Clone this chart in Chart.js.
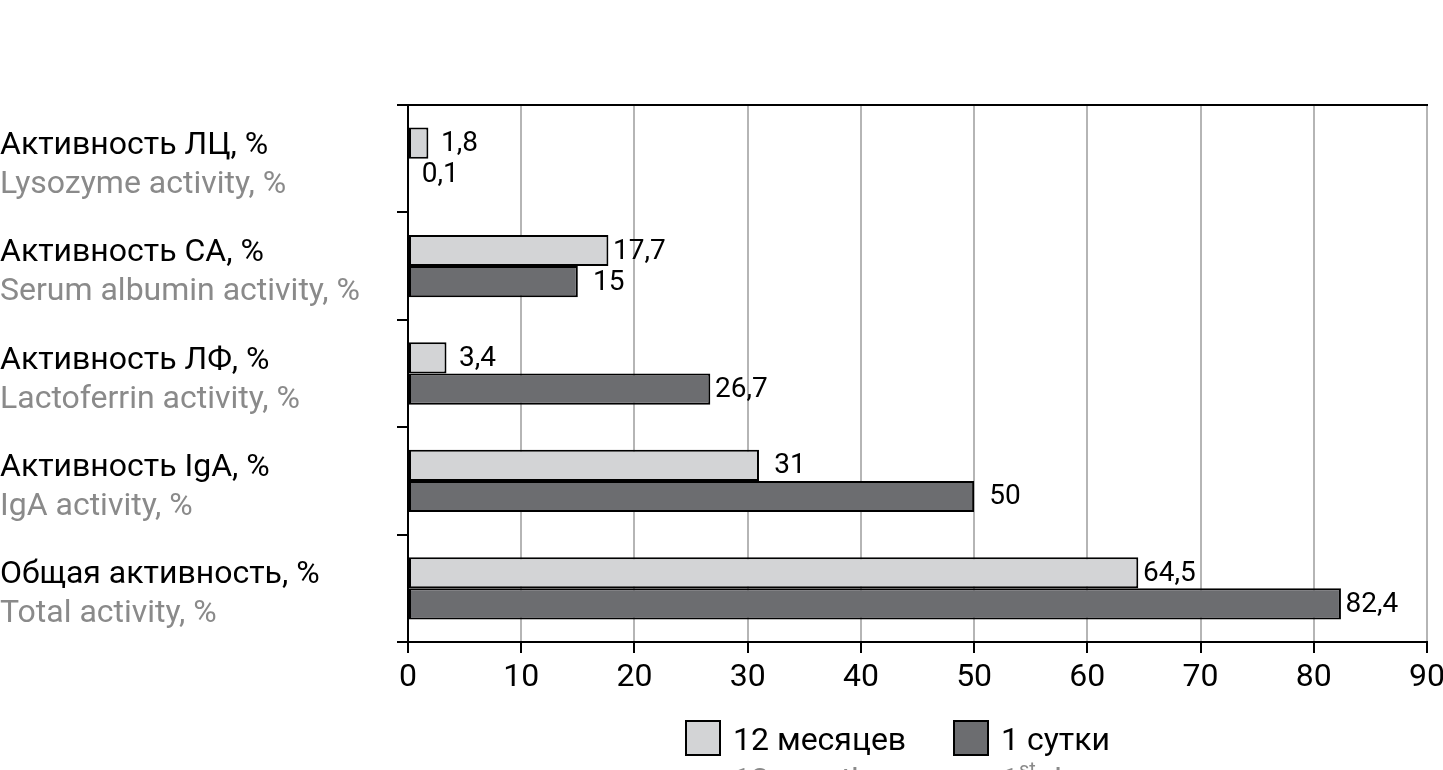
<!DOCTYPE html>
<html lang="ru">
<head>
    <meta charset="UTF-8">
    <title>Активность</title>
    <script src="https://cdn.jsdelivr.net/npm/chart.js"></script>
    <style>
        html, body { margin: 0; padding: 0; background: #fff; }
        #wrap { width: 1443px; height: 770px; position: relative; }
    </style>
</head>
<body>
    <div id="wrap"><canvas id="chart"></canvas></div>

    <script>
        // Данные
        const categoriesRu = ['Активность ЛЦ, %', 'Активность СА, %', 'Активность ЛФ, %', 'Активность IgA, %', 'Общая активность, %'];
        const categoriesEn = ['Lysozyme activity, %', 'Serum albumin activity, %', 'Lactoferrin activity, %', 'IgA activity, %', 'Total activity, %'];
        const months12 = [1.8, 17.7, 3.4, 31, 64.5];
        const day1 = [0.1, 15, 26.7, 50, 82.4];
        const seriesRu = ['12 месяцев', '1 сутки'];
        const seriesEn = [['12 months', ''], ['1', 'st', ' day']];
        const xTicks = [0, 10, 20, 30, 40, 50, 60, 70, 80, 90];

        const FONT = 'Roboto, "Liberation Sans", sans-serif';
        const GREY_TEXT = '#8a8a8a';

        // подписи категорий слева (две строки, разный цвет)
        const categoryLabels = {
            id: 'categoryLabels',
            afterDraw(chart) {
                const ctx = chart.ctx;
                const y = chart.scales.y;
                ctx.save();
                ctx.textAlign = 'left';
                ctx.textBaseline = 'alphabetic';
                categoriesRu.forEach((ru, i) => {
                    const c = y.getPixelForValue(i);
                    ctx.font = '32px ' + FONT;
                    ctx.fillStyle = '#000';
                    ctx.fillText(ru, 0, c - 5);
                    ctx.fillStyle = GREY_TEXT;
                    ctx.fillText(categoriesEn[i], 0, c + 34);
                });
                ctx.restore();
            }
        };

        // значения у концов столбцов
        const valueLabels = {
            id: 'valueLabels',
            afterDatasetsDraw(chart) {
                const ctx = chart.ctx;
                ctx.save();
                ctx.font = '28px ' + FONT;
                ctx.fillStyle = '#000';
                ctx.textAlign = 'center';
                ctx.textBaseline = 'middle';
                chart.data.datasets.forEach((ds, di) => {
                    chart.getDatasetMeta(di).data.forEach((bar, i) => {
                        const txt = String(ds.data[i]).replace('.', ',');
                        ctx.fillText(txt, bar.x + 31, bar.y + 1);
                    });
                });
                ctx.restore();
            }
        };

        // верхняя линия рамки
        const topLine = {
            id: 'topLine',
            afterDraw(chart) {
                const a = chart.chartArea;
                const ctx = chart.ctx;
                ctx.save();
                ctx.strokeStyle = '#000';
                ctx.lineWidth = 2;
                ctx.beginPath();
                ctx.moveTo(a.left, a.top);
                ctx.lineTo(a.right + 1, a.top);
                ctx.stroke();
                ctx.restore();
            }
        };

        // легенда снизу
        const bottomLegend = {
            id: 'bottomLegend',
            afterDraw(chart) {
                const ctx = chart.ctx;
                const starts = [686, 954];
                ctx.save();
                chart.data.datasets.forEach((ds, i) => {
                    const x = starts[i];
                    ctx.fillStyle = ds.backgroundColor;
                    ctx.fillRect(x, 721, 34, 34);
                    ctx.strokeStyle = '#000';
                    ctx.lineWidth = 2;
                    ctx.strokeRect(x, 721, 34, 34);
                    ctx.font = '32px ' + FONT;
                    ctx.fillStyle = '#000';
                    ctx.textAlign = 'left';
                    ctx.textBaseline = 'alphabetic';
                    ctx.fillText(seriesRu[i], x + 47, 750);
                    // английская строка (обрезана краем)
                    ctx.fillStyle = GREY_TEXT;
                    const parts = seriesEn[i];
                    let tx = x + 47;
                    ctx.fillText(parts[0], tx, 790);
                    tx += ctx.measureText(parts[0]).width;
                    if (parts[1]) {
                        ctx.font = '20px ' + FONT;
                        ctx.fillText(parts[1], tx, 776);
                        tx += ctx.measureText(parts[1]).width;
                        ctx.font = '32px ' + FONT;
                        ctx.fillText(parts[2], tx, 790);
                    }
                });
                ctx.restore();
            }
        };

        new Chart(document.getElementById('chart'), {
            type: 'bar',
            data: {
                labels: categoriesRu,
                datasets: [{
                    label: seriesRu[0],
                    data: months12,
                    backgroundColor: '#d3d4d6',
                    borderColor: '#000',
                    borderWidth: 2,
                    borderSkipped: false,
                    categoryPercentage: 0.58,
                    barPercentage: 1.0
                }, {
                    label: seriesRu[1],
                    data: day1,
                    backgroundColor: '#6c6d70',
                    borderColor: '#000',
                    borderWidth: 2,
                    borderSkipped: false,
                    categoryPercentage: 0.58,
                    barPercentage: 1.0
                }]
            },
            options: {
                indexAxis: 'y',
                responsive: true,
                maintainAspectRatio: false,
                animation: false,
                layout: { padding: { top: 105, right: 16, left: 0, bottom: 0 } },
                plugins: {
                    legend: { display: false },
                    tooltip: { enabled: false }
                },
                scales: {
                    x: {
                        min: 0,
                        max: 90,
                        afterBuildTicks(scale) {
                            scale.ticks = xTicks.map(v => ({ value: v }));
                        },
                        ticks: {
                            font: { family: FONT, size: 32 },
                            color: '#000',
                            padding: 6
                        },
                        grid: {
                            color: '#b5b5b5',
                            lineWidth: 2,
                            tickColor: '#000',
                            tickLength: 11
                        },
                        border: { color: '#000', width: 2 },
                        afterFit(scale) {
                            scale.height = 128;
                            scale.paddingLeft = 0;
                            scale.paddingRight = 0;
                        }
                    },
                    y: {
                        ticks: { display: false },
                        grid: {
                            drawOnChartArea: false,
                            color: '#000',
                            lineWidth: 2,
                            tickLength: 11
                        },
                        border: { color: '#000', width: 2 },
                        afterFit(scale) {
                            scale.width = 408;
                        }
                    }
                }
            },
            plugins: [categoryLabels, valueLabels, topLine, bottomLegend]
        });
    </script>
</body>
</html>
